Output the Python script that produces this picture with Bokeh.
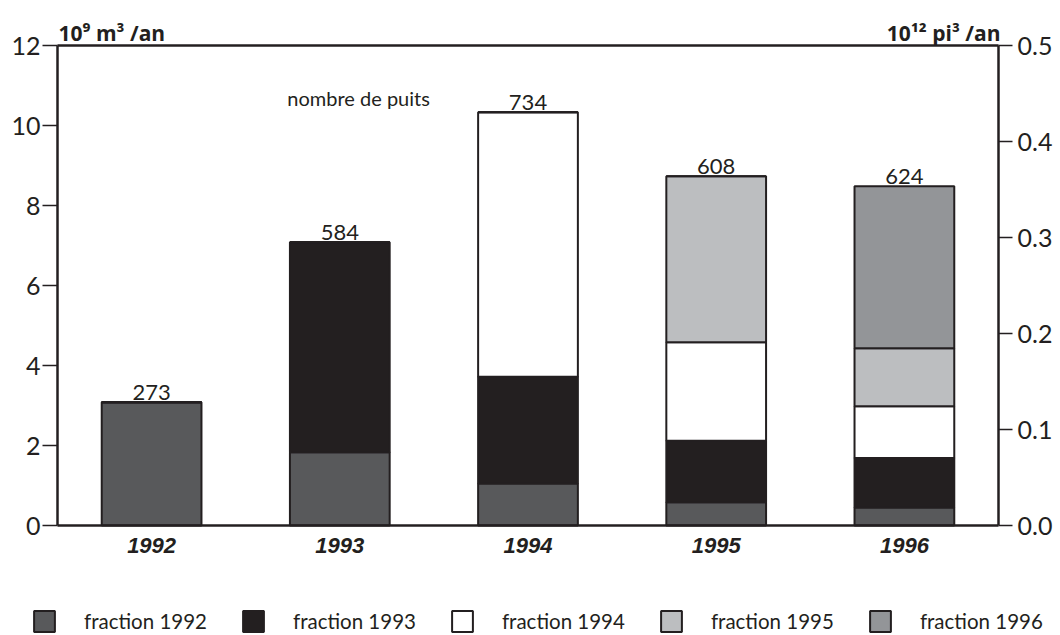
from bokeh.plotting import figure
from bokeh.models import (ColumnDataSource, Range1d, LinearAxis, FixedTicker,
                          NumeralTickFormatter, Legend, LegendItem)
from bokeh.embed import file_html
from bokeh.resources import INLINE
from bokeh.core.properties import value

# ---- data ----
years = [1992, 1993, 1994, 1995, 1996]
fraction_1992 = [3.08, 1.83, 1.05, 0.58, 0.45]
fraction_1993 = [0.0, 5.25, 2.67, 1.54, 1.24]
fraction_1994 = [0.0, 0.0, 6.61, 2.46, 1.29]
fraction_1995 = [0.0, 0.0, 0.0, 4.15, 1.45]
fraction_1996 = [0.0, 0.0, 0.0, 0.0, 4.05]
wells = [273, 584, 734, 608, 624]
series_names = ["fraction 1992", "fraction 1993", "fraction 1994", "fraction 1995", "fraction 1996"]
left_ticks = [0, 2, 4, 6, 8, 10, 12]
right_ticks = [0.0, 0.1, 0.2, 0.3, 0.4, 0.5]
left_title = "10⁹ m³ /an"
right_title = "10¹² pi³ /an"
wells_title = "nombre de puits"

colors = ["#58595b", "#231f20", "#ffffff", "#bcbec0", "#939598"]
ink = "#231f20"
FONT = "Lato"
TITLE_FONT = "Open Sans"
YEAR_FONT = "Liberation Sans"

# ---- layout (pixels) ----
W, H = 1060, 635
BOX_L, BOX_R, BOX_T, BOX_B = 57, 998, 45, 525      # box position on the canvas
X0, X1 = years[0] - 0.5, years[-1] + 0.5           # box edges in data
Y0, Y1 = 0, 12
Y2_MAX = 0.5
px_x = (BOX_R - BOX_L) / (X1 - X0)
px_y = (BOX_B - BOX_T) / (Y1 - Y0)
x_range = Range1d(X0 - BOX_L / px_x, X1 + (W - BOX_R) / px_x)
y_start, y_end = Y0 - (H - BOX_B) / px_y, Y1 + BOX_T / px_y
k2 = Y2_MAX / Y1

stackers = ["f92", "f93", "f94", "f95", "f96"]
totals = [sum(v) for v in zip(fraction_1992, fraction_1993, fraction_1994, fraction_1995, fraction_1996)]
source = ColumnDataSource(dict(year=years, f92=fraction_1992, f93=fraction_1993, f94=fraction_1994,
                               f95=fraction_1995, f96=fraction_1996, total=totals,
                               wells=[str(w) for w in wells]))

p = figure(x_range=x_range, y_range=Range1d(y_start, y_end),
           width=W, height=H, output_backend="svg", toolbar_location=None,
           min_border=0, x_axis_location=None, y_axis_location=None)
p.extra_y_ranges = {"y2": Range1d(y_start * k2, y_end * k2)}
p.grid.visible = False
p.background_fill_color = "white"
p.border_fill_color = "white"
p.outline_line_color = None

renderers = p.vbar_stack(stackers, x="year", width=0.53, source=source,
                         fill_color=colors, line_color=ink, line_width=2)

# numbers of wells
p.text(x="year", y="total", text="wells", source=source, text_align="center",
       text_baseline="bottom", y_offset=-2, text_font=value(FONT), text_font_size="22px",
       text_color=ink)

# titles
p.text(x=[1993.1], y=[10.7], text=[wells_title], text_align="center", text_baseline="middle",
       text_font=value(FONT), text_font_size="20px", text_color=ink)
p.text(x=[X0 + 1 / px_x], y=[Y1 + 13 / px_y], text=[left_title], text_align="left",
       text_baseline="alphabetic", text_font=value(TITLE_FONT), text_font_style="bold",
       text_font_size="21px", text_color=ink)
p.text(x=[X1 + 2 / px_x], y=[Y1 + 13 / px_y], text=[right_title], text_align="right",
       text_baseline="alphabetic", text_font=value(TITLE_FONT), text_font_style="bold",
       text_font_size="21px", text_color=ink)


def style_y(ax, tick_out, standoff):
    ax.axis_line_color = ink
    ax.axis_line_width = 2.5
    ax.major_tick_out = tick_out
    ax.major_tick_in = 0
    ax.minor_tick_line_color = None
    ax.major_tick_line_color = ink
    ax.major_tick_line_width = 1.5
    ax.major_label_standoff = standoff
    ax.major_label_text_font = FONT
    ax.major_label_text_font_size = "25px"
    ax.major_label_text_color = ink


# left axis
la = LinearAxis(ticker=FixedTicker(ticks=left_ticks), bounds=(Y0, Y1), fixed_location=X0)
style_y(la, 15, 2)
p.add_layout(la, "left")

# right axis
ra = LinearAxis(y_range_name="y2", ticker=FixedTicker(ticks=right_ticks),
                formatter=NumeralTickFormatter(format="0.0"), bounds=(0, Y2_MAX),
                fixed_location=X1)
style_y(ra, 14, 5)
p.add_layout(ra, "right")

# bottom axis with the years
ba = LinearAxis(ticker=FixedTicker(ticks=years), bounds=(X0, X1), fixed_location=Y0)
ba.axis_line_color = ink
ba.axis_line_width = 2.5
ba.major_tick_out = 0
ba.major_tick_in = 0
ba.major_tick_line_color = None
ba.minor_tick_line_color = None
ba.major_label_standoff = 12
ba.major_label_text_font = YEAR_FONT
ba.major_label_text_font_style = "bold italic"
ba.major_label_text_font_size = "22px"
ba.major_label_text_color = ink
p.add_layout(ba, "below")

# top edge of the box
ta = LinearAxis(ticker=FixedTicker(ticks=[]), bounds=(X0, X1), fixed_location=Y1)
ta.axis_line_color = ink
ta.axis_line_width = 2.5
ta.major_tick_line_color = None
ta.minor_tick_line_color = None
ta.major_label_text_font_size = "0px"
p.add_layout(ta, "above")

# legend
items = [LegendItem(label=n, renderers=[r]) for n, r in zip(series_names, renderers)]
legend = Legend(items=items, orientation="horizontal", location=(31, 1),
                glyph_width=26, glyph_height=26, label_standoff=27, spacing=33,
                padding=0, margin=0, border_line_color=None, background_fill_alpha=0,
                label_text_font=FONT, label_text_font_size="20.5px", label_text_color=ink,
                label_height=26)
p.add_layout(legend, "center")

open("out.html", "w").write(file_html(p, INLINE))
